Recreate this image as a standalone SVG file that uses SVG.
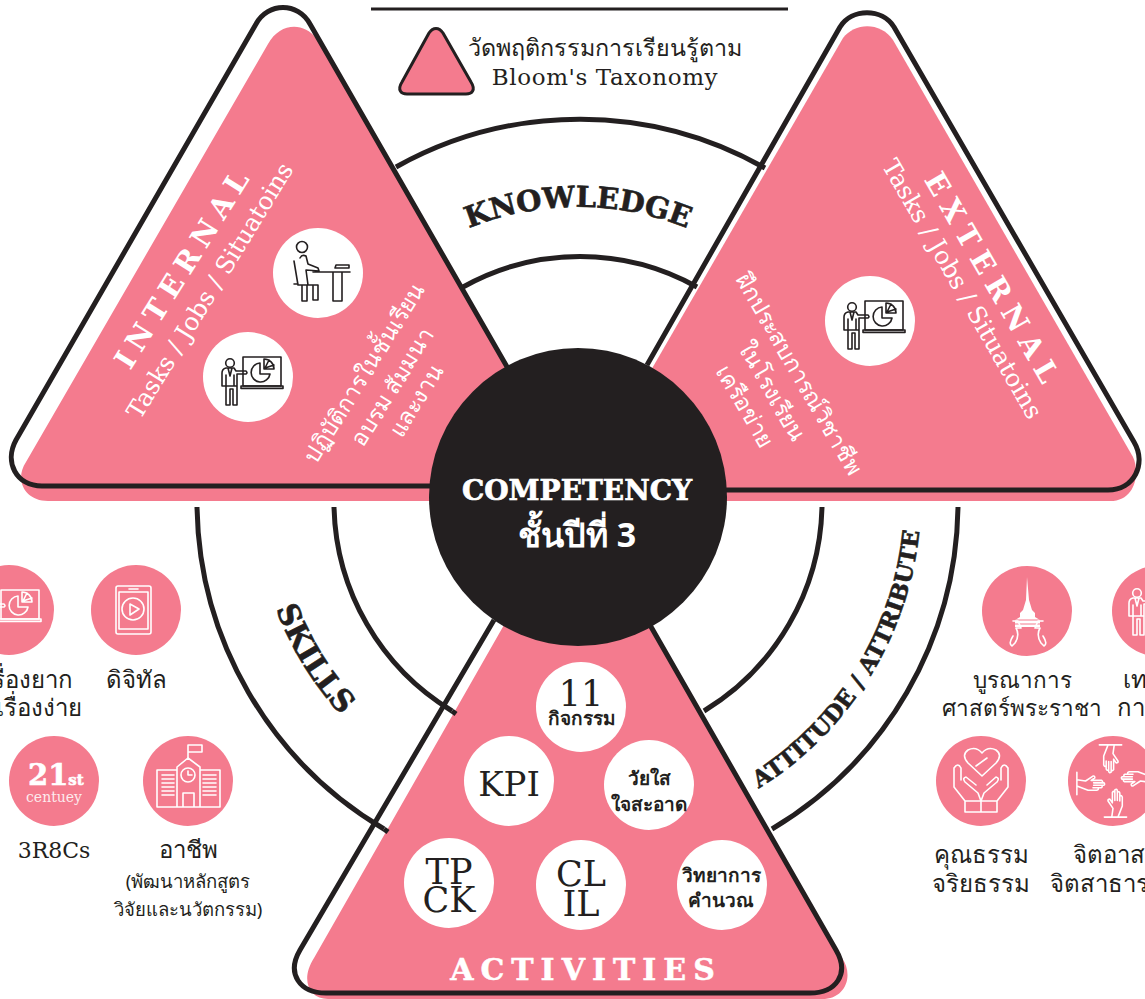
<svg xmlns="http://www.w3.org/2000/svg" width="1145" height="999" viewBox="0 0 1145 999">
<style>
.pink{fill:#f47b8e}
.line{fill:none;stroke:#231f20;stroke-width:5;stroke-linejoin:round}
.arc{fill:none;stroke:#231f20;stroke-width:5}
.wc{fill:#fff}
.pc{fill:#f47b8e}
.slab{font-family:"DejaVu Serif",serif}
.th{font-family:"Noto Sans","Liberation Sans",sans-serif}
.lb{fill:#231f20;font-size:24px;text-anchor:middle}
.end{text-anchor:end}
.start{text-anchor:start}
.sm{font-size:18.5px}
.md{font-size:22.5px}
.head{fill:#231f20;stroke:#231f20;stroke-width:.6px;font-weight:700;font-family:"DejaVu Serif",serif}
.wt{fill:#fff;text-anchor:middle}
.ic{fill:none;stroke-width:1.6;stroke-linejoin:round;stroke-linecap:round}
.d{stroke:#231f20}
.w{stroke:#fff}
.ac{fill:#231f20;text-anchor:middle}
.hands{stroke-width:2.5}
</style>
<defs>
<path id="kArc" d="M 288 497 A 290 290 0 0 1 868 497"/>
<path id="sArc" d="M 256 497 A 322 322 0 0 0 578 819"/>
<path id="aArc" d="M 578 840 A 343 343 0 0 0 921 497"/>
<g id="presenter">
<circle cx="-18" cy="-14" r="4.3"/>
<rect x="-5" y="-20" width="38" height="29"/>
<rect x="-7" y="9" width="42" height="2.4"/>
<path d="M-26 9V-4Q-26 -8 -22 -9H-14L-12 -6H-2Q0 -4 -2 -3H-11V9ZM-26 9H-22V-2M-14 -2V9M-22 9V28H-18V12H-15V28H-11V9M-20 -9L-18 -1L-16 -9"/>
<path d="M12 -14A9.5 9.5 0 1 0 22 -3H12ZM16 -18A10 10 0 0 1 26 -8L16 -8ZM21 -17L17 -9L26 -12"/>
</g>
<g id="hand">
<path d="M-14 26H22M-2 26L0 12L-8 0Q-9 -3 -5 -3L-1 3V-14Q1 -17 3 -14V-1V-18Q6 -20 7 -17V-1V-14Q10 -16 11 -13V0V-8Q14 -10 15 -6V8L8 26"/>
</g>
</defs>

<g id="connectors">
<path class="arc" d="M 396 167 A 377 377 0 0 1 765 168"/>
<path class="arc" d="M 463 287 A 240 240 0 0 1 697 287"/>
<path class="arc" d="M 197 507 A 381 381 0 0 0 384 829"/>
<path class="arc" d="M 334 507 A 245 245 0 0 0 452 711"/>
<path class="arc" d="M 822 507 A 245 245 0 0 1 704 711"/>
<path class="arc" d="M 958 507 A 381 381 0 0 1 772 829"/>
</g>

<g id="internal">
<path class="pink" d="M 515 378 L 316 38 C 304 22 280 22 268 44 L 26 462 C 14 480 25 501 48 501 L 450 501 Z"/>
<path class="line" d="M 510 372 L 310 24 C 298 2 268 2 256 24 L 16 440 C 4 462 16 486 42 486 L 440 486"/>
<g class="wt">
<text class="slab" font-weight="700" font-size="29" letter-spacing="7" transform="translate(192 272) rotate(-58)">INTERNAL</text>
<text class="slab" font-size="24.5" transform="translate(217 295) rotate(-58.5)">Tasks / Jobs / Situatoins</text>
<g class="th" font-size="23">
<text transform="translate(371 377) rotate(-58)">ปฏิบัติการในชั้นเรียน</text>
<text transform="translate(399 391) rotate(-58)">อบรม สัมมนา</text>
<text transform="translate(423 405) rotate(-58)">และงาน</text>
</g>
</g>
<circle class="wc" cx="318" cy="273" r="45"/>
<g class="ic d">
<circle cx="302" cy="247" r="5.5"/>
<path d="M294 261L298 285H307V301H302V285M300 258Q302 254 306 256L308 264L318 268L319 271L306 270L308 285H318V300H313V286M313 272H350M333 272V301H342V272M335 268H349V265H336ZM294 284H298"/>
</g>
<circle class="wc" cx="248" cy="377" r="45"/>
<use href="#presenter" class="ic d" transform="translate(248 377)"/>
</g>

<g id="external">
<path class="pink" d="M 650 372 L 843 38 C 855 22 881 22 893 40 L 1133 457 C 1140 472 1136 501 1110 501 L 700 501 Z"/>
<path class="line" d="M 647 365 L 840 27 C 852 8 882 8 894 27 L 1134 442 C 1147 464 1134 490 1108 490 L 720 490"/>
<g class="wt">
<text class="slab" font-weight="700" font-size="29" letter-spacing="8" transform="translate(985 286) rotate(60)">EXTERNAL</text>
<text class="slab" font-size="24.5" transform="translate(955 293) rotate(60)">Tasks / Jobs / Situatoins</text>
<g class="th" font-size="23">
<text transform="translate(792 378) rotate(60)">ฝึกประสบการณ์วิชาชีพ</text>
<text transform="translate(765 395) rotate(60)">ในโรงเรียน</text>
<text transform="translate(738 410) rotate(60)">เครือข่าย</text>
</g>
</g>
<circle class="wc" cx="870" cy="321" r="45"/>
<use href="#presenter" class="ic d" transform="translate(870 321)"/>
</g>

<g id="activities">
<path class="pink" d="M 504 625 L 314 958 C 300 980 309 999 328 999 L 822 999 C 846 999 854 975 842 958 L 650 625 Z"/>
<path class="line" d="M 494 620 L 300 950 C 286 974 300 993 326 993 L 810 993 C 836 993 850 974 836 950 L 650 625"/>
<path class="arc" d="M 384 829 L 388 832M 452 711 L 456 714"/>
<circle class="wc" cx="581" cy="707" r="45"/>
<circle class="wc" cx="509" cy="781" r="45"/>
<circle class="wc" cx="649" cy="785" r="45"/>
<circle class="wc" cx="449" cy="883" r="45"/>
<circle class="wc" cx="581" cy="885" r="45"/>
<circle class="wc" cx="722" cy="885" r="45"/>
<g class="ac slab">
<text x="581" y="706" font-size="35">11</text>
<text x="509" y="796" font-size="34">KPI</text>
<text x="449" y="884" font-size="35">TP</text>
<text x="449" y="912" font-size="35">CK</text>
<text x="581" y="886" font-size="35">CL</text>
<text x="581" y="916" font-size="35">IL</text>
</g>
<g class="ac th" font-size="19">
<text x="582" y="725" font-weight="700">กิจกรรม</text>
<text x="649" y="785" font-weight="700">วัยใส</text>
<text x="649" y="811" font-weight="700">ใจสะอาด</text>
<text x="721" y="882" font-weight="700">วิทยาการ</text>
<text x="721" y="907" font-weight="700">คำนวณ</text>
</g>
<text class="slab" x="586" y="980" fill="#fff" stroke="#fff" stroke-width=".5" text-anchor="middle" font-weight="700" font-size="30" letter-spacing="7">ACTIVITIES</text>
</g>

<g id="center">
<circle cx="578" cy="497" r="149" fill="#231f20"/>
<text class="slab" x="577" y="500" fill="#fff" stroke="#fff" stroke-width=".7" text-anchor="middle" font-weight="700" font-size="28">COMPETENCY</text>
<text class="th" x="577" y="547" fill="#fff" text-anchor="middle" font-weight="700" font-size="34">ชั้นปีที่ 3</text>
</g>

<g id="knowledge"><text class="head" font-size="29"><textPath href="#kArc" startOffset="50%" text-anchor="middle">KNOWLEDGE</textPath></text></g>
<g id="skills"><text class="head" font-size="30"><textPath href="#sArc" startOffset="35%" text-anchor="middle">SKILLS</textPath></text></g>
<g id="attitude"><text class="head" font-size="23"><textPath href="#aArc" startOffset="64.5%" text-anchor="middle">ATTITUDE / ATTRIBUTE</textPath></text></g>

<g id="legend">
<path d="M371 9H788" stroke="#231f20" stroke-width="3" fill="none"/>
<path class="pink" stroke="#231f20" stroke-width="3" stroke-linejoin="round" d="M429 33C433 27 439 27 443 33L471 82C476 90 472 94 466 94H407C401 94 397 90 402 82Z"/>
<text class="th" x="605" y="56" fill="#231f20" text-anchor="middle" font-size="23.3">วัดพฤติกรรมการเรียนรู้ตาม</text>
<text class="slab" x="605" y="85" fill="#231f20" text-anchor="middle" font-size="23" letter-spacing=".6">Bloom's Taxonomy</text>
</g>

<g id="hard-easy">
<circle class="pc" cx="9" cy="610" r="45"/>
<use href="#presenter" class="ic w" transform="translate(6 610)"/>
<text class="lb th end" x="73" y="688">เรื่องยาก</text>
<text class="lb th end" x="82" y="716">เรื่องง่าย</text>
</g>
<g id="digital">
<circle class="pc" cx="136" cy="610" r="45"/>
<g class="ic w">
<rect x="116" y="586" width="35" height="48" rx="2"/>
<rect x="119" y="592" width="29" height="37"/>
<path d="M129 589H138"/>
<circle cx="133" cy="609" r="11"/>
<path d="M130 604L139 609L130 615Z"/>
</g>
<text class="lb th" x="136" y="688">ดิจิทัล</text>
</g>
<g id="century">
<circle class="pc" cx="54" cy="781" r="45"/>
<text x="28" y="785" fill="#fff" stroke="#fff" stroke-width=".6" class="slab" font-weight="700" font-size="29">21<tspan font-size="15">st</tspan></text>
<text x="54" y="802" fill="#fff" class="slab" text-anchor="middle" font-size="14" opacity=".85">centuey</text>
<text class="lb slab" x="54" y="858" style="font-size:22px">3R8Cs</text>
</g>
<g id="career">
<circle class="pc" cx="188" cy="781" r="45"/>
<g class="ic w">
<path d="M188 758V745H202V752H188"/>
<path d="M177 807V767L188 758L200 767V807M177 770H157V807H220V770H200M183 807V793H194V807"/>
<circle cx="188" cy="775" r="7"/>
<path d="M188 771V775H192"/>
<path d="M162 775H174M162 779H174M162 783H174M162 787H174M162 791H174M162 795H174M203 775H216M203 779H216M203 783H216M203 787H216M203 791H216M203 795H216"/>
</g>
<text class="lb th" x="188" y="858">อาชีพ</text>
<text class="lb th sm" x="188" y="888">(พัฒนาหลักสูตร</text>
<text class="lb th sm" x="188" y="916">วิจัยและนวัตกรรม)</text>
</g>

<g id="royal">
<circle class="pc" cx="1027" cy="611" r="45"/>
<path fill="#fff" d="M1027 577L1029 600L1032 610L1035 613V617L1040 620V627H1015V620L1020 617V613L1023 610L1026 600Z"/>
<path d="M1015 620H1040M1015 624H1040" stroke="#f47b8e" stroke-width="1"/>
<path class="ic w" d="M1013 621H1018L1021 628H1016Q1020 635 1015 643L1012 646Q1008 644 1013 636M1043 621H1038L1035 628H1040Q1036 635 1041 643L1044 646Q1048 644 1043 636"/>
<text class="lb th md" x="1022" y="688">บูรณาการ</text>
<text class="lb th md" x="1022" y="716">ศาสตร์พระราชา</text>
</g>
<g id="tech">
<circle class="pc" cx="1157" cy="611" r="45"/>
<use href="#presenter" class="ic w" transform="translate(1155 607)"/>
<text class="lb th start" x="1123" y="688">เท</text>
<text class="lb th start" x="1117" y="716">กา</text>
</g>
<g id="ethics">
<circle class="pc" cx="981" cy="781" r="45"/>
<g class="ic w">
<path d="M982 776L968 763Q961 755 968 750Q976 746 982 753Q988 746 996 750Q1003 755 996 763Z"/>
<path d="M981 801H965V812H981V801L978 793L965 782Q962 778 966 777L976 785M965 801L954 787V768Q958 762 961 768V780M981 801L984 793L997 782Q1000 778 996 777L987 785M997 801L1008 787V768Q1004 762 1001 768V780M981 801H997V812H981M976 766L987 758"/>
</g>
<text class="lb th" x="981" y="863">คุณธรรม</text>
<text class="lb th" x="981" y="892">จริยธรรม</text>
</g>
<g id="volunteer">
<circle class="pc" cx="1113" cy="781" r="45"/>
<g class="ic w hands">
<use href="#hand" transform="translate(1113 781) translate(0 20) scale(.62)"/>
<use href="#hand" transform="translate(1113 781) rotate(90) translate(0 20) scale(.62)"/>
<use href="#hand" transform="translate(1113 781) rotate(180) translate(0 20) scale(.62)"/>
<use href="#hand" transform="translate(1113 781) rotate(270) translate(0 20) scale(.62)"/>
</g>
<text class="lb th" x="1115" y="863">จิตอาสา</text>
<text class="lb th start" x="1050" y="892">จิตสาธารณะ</text>
</g>
</svg>
